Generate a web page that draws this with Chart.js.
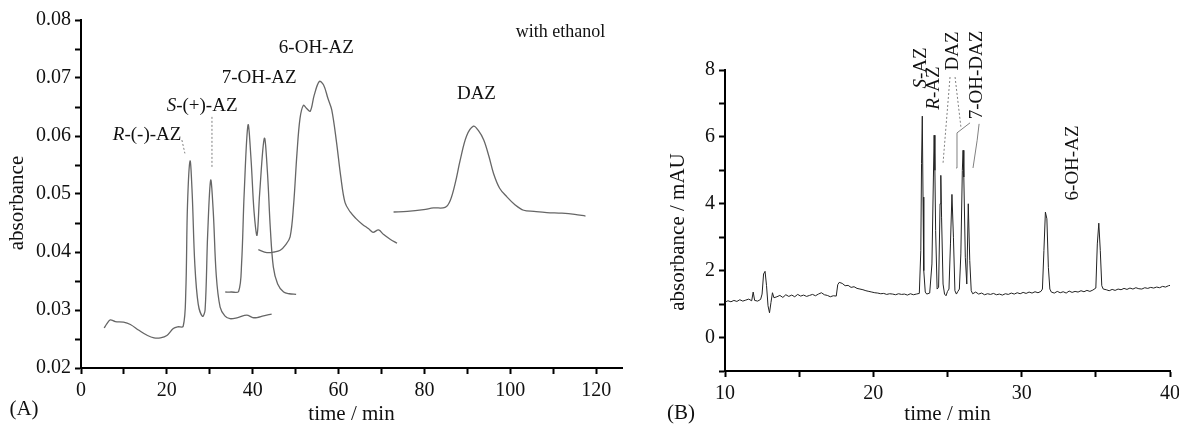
<!DOCTYPE html>
<html>
<head>
<meta charset="utf-8">
<script src="https://cdn.jsdelivr.net/npm/chart.js@4.4.0/dist/chart.umd.min.js"></script>
<style>
  body { margin: 0; background: #fff; overflow: hidden; }
  #wrap { position: relative; width: 1179px; height: 427px; overflow: hidden; }
  canvas { position: absolute; top: 0; }
</style>
</head>
<body>
<div id="wrap">
  <canvas id="chartA" width="630" height="427" style="left:0px"></canvas>
  <canvas id="chartB" width="570" height="427" style="left:630px"></canvas>
</div>
<script>
// ---- panel A : chromatogram pieces, with ethanol (time in min, absorbance) ----
const aTime1 = [5.4, 6.0, 6.8, 8.0, 9.9, 11.5, 13.5, 15.5, 17.0, 18.5, 20.0, 21.5, 22.5, 23.8, 24.4, 24.8, 25.4, 25.9, 26.5, 27.3,
                28.3, 28.9, 29.5, 30.2, 30.8, 31.5, 32.4, 33.5, 34.7, 36.5, 38.6, 40.0, 41.0, 42.5, 44.4];
const aAbs1  = [0.0269, 0.0276, 0.0283, 0.0280, 0.0279, 0.0275, 0.0265, 0.0256, 0.0252, 0.0252, 0.0256, 0.0268, 0.0271, 0.0272, 0.0330, 0.0480, 0.0557, 0.0500, 0.0380, 0.0310,
                0.0289, 0.0300, 0.0430, 0.0524, 0.0470, 0.0360, 0.0305, 0.0290, 0.0285, 0.0287, 0.0291, 0.0287, 0.0287, 0.0290, 0.0293];

const aTime2 = [33.6, 35.0, 36.7, 37.4, 38.0, 38.9, 39.6, 40.3, 41.0, 41.6, 42.7, 43.4, 44.1, 44.8, 45.8, 47.2, 48.5, 50.1];
const aAbs2  = [0.0331, 0.0331, 0.0332, 0.0380, 0.0500, 0.0619, 0.0560, 0.0470, 0.0429, 0.0500, 0.0596, 0.0540, 0.0440, 0.0374, 0.0345, 0.0331, 0.0328, 0.0327];

const aTime3 = [41.3, 43.3, 45.0, 46.4, 47.6, 48.7, 49.5, 50.3, 51.0, 51.8, 52.5, 53.4, 54.3, 55.5, 56.5, 57.5, 58.4, 59.5, 60.5, 61.5,
                62.7, 64.0, 65.5, 67.0, 68.0, 69.3, 70.5, 72.0, 73.6];
const aAbs3  = [0.0404, 0.0399, 0.0400, 0.0403, 0.0412, 0.0426, 0.0480, 0.0570, 0.0630, 0.0653, 0.0648, 0.0643, 0.0670, 0.0694, 0.0688, 0.0665, 0.0645, 0.0590, 0.0530, 0.0485,
                0.0469, 0.0458, 0.0448, 0.0440, 0.0434, 0.0438, 0.0430, 0.0422, 0.0415];

const aTime4 = [72.8, 76.0, 79.8, 82.1, 84.8, 86.0, 87.2, 88.3, 89.8, 91.4, 92.5, 93.8, 95.0, 96.1, 97.5, 99.2, 101.0, 103.1, 105.5, 108.5,
                112.0, 115.0, 117.5];
const aAbs4  = [0.0469, 0.0470, 0.0473, 0.0476, 0.0477, 0.0489, 0.0520, 0.0558, 0.0600, 0.0617, 0.0610, 0.0593, 0.0565, 0.0535, 0.0510, 0.0495, 0.0482, 0.0472, 0.0470, 0.0468,
                0.0467, 0.0465, 0.0462];

// leader lines (dotted) from peak names to peaks
const aLeadR = [[23.5, 0.0593], [24.2, 0.0570]];
const aLeadS = [[30.5, 0.0633], [30.5, 0.0546]];

// ---- panel B : electropherogram (time in min, absorbance in mAU) ----
const bTime = [
  10.0, 10.2, 10.4, 10.6, 10.8, 11.0, 11.2, 11.4, 11.6, 11.8,
  11.9, 12.0, 12.2, 12.4, 12.5, 12.6, 12.7, 12.8, 12.9, 13.0,
  13.1, 13.2, 13.3, 13.5, 13.7, 13.9, 14.1, 14.3, 14.5, 14.7,
  14.9, 15.1, 15.3, 15.5, 15.7, 15.9, 16.1, 16.3, 16.5, 16.7,
  16.9, 17.1, 17.3, 17.5, 17.6, 17.7, 17.9, 18.1, 18.3, 18.5,
  18.7, 18.9, 19.1, 19.3, 19.5, 19.7, 19.9, 20.1, 20.3, 20.5,
  20.7, 20.9, 21.1, 21.3, 21.5, 21.7, 21.9, 22.1, 22.3, 22.5,
  22.7, 22.9, 23.1, 23.2, 23.25, 23.3, 23.35, 23.4, 23.5, 23.6,
  23.8, 23.95, 24.05, 24.1, 24.15, 24.2, 24.3, 24.4, 24.5, 24.55,
  24.6, 24.7, 24.8, 24.9, 25.0, 25.1, 25.2, 25.3, 25.4, 25.5,
  25.6, 25.7, 25.8, 25.9, 26.0, 26.05, 26.1, 26.2, 26.3, 26.4,
  26.5, 26.6, 26.7, 26.9, 27.1, 27.3, 27.5, 27.7, 27.9, 28.1,
  28.3, 28.5, 28.7, 28.9, 29.1, 29.3, 29.5, 29.7, 29.9, 30.1,
  30.3, 30.5, 30.7, 30.9, 31.1, 31.3, 31.4, 31.5, 31.6, 31.7,
  31.8, 31.9, 32.0, 32.2, 32.4, 32.6, 32.8, 33.0, 33.2, 33.4,
  33.6, 33.8, 34.0, 34.2, 34.4, 34.6, 34.8, 35.0, 35.1, 35.2,
  35.3, 35.4, 35.5, 35.7, 35.9, 36.1, 36.3, 36.5, 36.7, 36.9,
  37.1, 37.3, 37.5, 37.7, 37.9, 38.1, 38.3, 38.5, 38.7, 38.9,
  39.1, 39.3, 39.5, 39.7, 39.9, 40.0];
const bAbs = [
  1.06, 1.10, 1.07, 1.11, 1.08, 1.13, 1.09, 1.12, 1.15, 1.10,
  1.36, 1.11, 1.09, 1.14, 1.30, 1.90, 1.98, 1.55, 0.95, 0.74,
  1.05, 1.34, 1.19, 1.22, 1.26, 1.20, 1.28, 1.23, 1.27, 1.22,
  1.29, 1.24, 1.27, 1.23, 1.26, 1.29, 1.25, 1.30, 1.34, 1.28,
  1.26, 1.22, 1.25, 1.24, 1.58, 1.65, 1.62, 1.55, 1.56, 1.50,
  1.52, 1.47, 1.45, 1.43, 1.40, 1.38, 1.36, 1.34, 1.33, 1.31,
  1.32, 1.29, 1.31, 1.30, 1.28, 1.31, 1.29, 1.30, 1.27, 1.31,
  1.28, 1.30, 1.32, 2.60, 5.20, 6.62, 4.20, 2.00, 1.36, 1.30,
  1.33, 2.20, 4.80, 6.05, 5.00, 3.20, 1.45, 1.50, 4.00, 4.85,
  3.60, 1.60, 1.30, 1.25, 1.38, 1.45, 2.80, 4.28, 3.00, 1.40,
  1.30, 1.38, 1.45, 2.50, 5.00, 5.60, 4.80, 2.40, 1.60, 4.00,
  2.30, 1.40, 1.31, 1.36, 1.30, 1.33, 1.28, 1.31, 1.29, 1.32,
  1.28, 1.30, 1.27, 1.31, 1.29, 1.33, 1.30, 1.34, 1.31, 1.35,
  1.32, 1.36, 1.33, 1.37, 1.34, 1.38, 1.45, 2.60, 3.75, 3.55,
  2.10, 1.45, 1.36, 1.33, 1.38, 1.34, 1.37, 1.33, 1.39, 1.35,
  1.38, 1.36, 1.40, 1.37, 1.41, 1.38, 1.42, 1.48, 2.80, 3.42,
  2.60, 1.55, 1.45, 1.43, 1.40, 1.44, 1.41, 1.45, 1.43, 1.47,
  1.44, 1.48, 1.45, 1.49, 1.46, 1.45, 1.49, 1.47, 1.50, 1.48,
  1.51, 1.49, 1.53, 1.51, 1.55, 1.56];

const bLeadDaz1 = [[25.17, 7.79], [24.70, 5.22]];
const bLeadDaz2 = [[25.51, 7.79], [25.91, 6.27]];
const bLeadOh1  = [[25.58, 5.07], [25.64, 6.12], [26.52, 6.42]];
const bLeadOh2  = [[27.13, 6.39], [27.00, 5.90], [26.72, 5.07]];

const SERIF = '"Liberation Serif", "Times New Roman", serif';

function pts(ts, vs) { return ts.map((t, i) => ({ x: t, y: vs[i] })); }
function pairs(p) { return p.map(q => ({ x: q[0], y: q[1] })); }

function trace(data, color, width, tension) {
  return { data: data, borderColor: color, borderWidth: width, pointRadius: 0, tension: tension, fill: false };
}
function leader(data, dashed) {
  return { data: pairs(data), borderColor: '#808080', borderWidth: 1, pointRadius: 0, tension: 0, fill: false,
           borderDash: dashed ? [2, 2] : [] };
}

// draws peak names (data units) and fixed texts (canvas pixels)
const textPlugin = {
  id: 'texts',
  afterDraw(chart, args, opts) {
    const ctx = chart.ctx;
    const xs = chart.scales.x, ys = chart.scales.y;
    const drawItem = (px, py, lab) => {
      const size = lab.size || 19;
      const fontOf = p => (p.i ? 'italic ' : '') + size + 'px ' + SERIF;
      let total = 0;
      const parts = lab.parts.map(p => {
        ctx.font = fontOf(p);
        const w = ctx.measureText(p.s).width;
        total += w;
        return { s: p.s, i: p.i, w: w };
      });
      ctx.save();
      ctx.translate(px, py);
      if (lab.rot) ctx.rotate(-Math.PI / 2);
      ctx.fillStyle = '#111';
      ctx.textBaseline = 'middle';
      ctx.textAlign = 'left';
      let x = -total / 2;
      parts.forEach(p => { ctx.font = fontOf(p); ctx.fillText(p.s, x, 0); x += p.w; });
      ctx.restore();
    };
    (opts.peaks || []).forEach(l => drawItem(xs.getPixelForValue(l.t), ys.getPixelForValue(l.v), l));
    (opts.fixed || []).forEach(l => drawItem(l.x, l.y, l));
  }
};

// ticks every `step` from min to max (Chart.js would drop the last one near max)
function stepTicks(s, min, max, step) {
  const out = [];
  for (let k = Math.ceil(min / step - 1e-9); k * step <= max + 1e-9; k++) out.push({ value: +(k * step).toFixed(6) });
  s.ticks = out;
}
const isMult = (v, m) => Math.abs(v / m - Math.round(v / m)) < 1e-6;

function axisX(min, max, step, labelEvery, height) {
  return {
    type: 'linear', min: min, max: max,
    afterFit(s) { s.height = height; },
    afterBuildTicks(s) { stepTicks(s, min, max, step); },
    ticks: { autoSkip: false, maxRotation: 0, padding: 5, color: '#111',
             font: { family: SERIF, size: 20 },
             callback: v => (isMult(v, labelEvery) ? v : '') },
    grid: { drawOnChartArea: false, tickLength: 6, tickColor: '#000', tickWidth: 2 },
    border: { color: '#000', width: 2 },
    title: { display: true, text: 'time / min', color: '#111', font: { family: SERIF, size: 21 }, padding: { top: 0, bottom: 0 } }
  };
}
function axisY(min, max, step, labelEvery, width, fmt) {
  return {
    type: 'linear', min: min, max: max,
    afterFit(s) { s.width = width; },
    afterBuildTicks(s) { stepTicks(s, min, max, step); },
    ticks: { autoSkip: false, padding: 4, color: '#111',
             font: { family: SERIF, size: 20 },
             callback: v => (isMult(v, labelEvery) && v >= labelEvery * Math.ceil(min / labelEvery - 1e-9) ? fmt(v) : '') },
    grid: { drawOnChartArea: false, tickLength: 6, tickColor: '#000', tickWidth: 2 },
    border: { color: '#000', width: 2 }
  };
}

new Chart(document.getElementById('chartA'), {
  type: 'line',
  data: {
    datasets: [
      trace(pts(aTime1, aAbs1), '#666', 1.3, 0.35),
      trace(pts(aTime2, aAbs2), '#666', 1.3, 0.35),
      trace(pts(aTime3, aAbs3), '#666', 1.3, 0.35),
      trace(pts(aTime4, aAbs4), '#666', 1.3, 0.35),
      leader(aLeadR, true),
      leader(aLeadS, true)
    ]
  },
  options: {
    responsive: false, animation: false, devicePixelRatio: 1,
    layout: { padding: { left: 0, right: 8, top: 20, bottom: 0 } },
    plugins: {
      legend: { display: false }, tooltip: { enabled: false },
      texts: {
        peaks: [
          { t: 15.4, v: 0.0602, parts: [{ s: 'R', i: true }, { s: '-(-)-AZ' }] },
          { t: 28.2, v: 0.0652, parts: [{ s: 'S', i: true }, { s: '-(+)-AZ' }] },
          { t: 41.5, v: 0.0700, parts: [{ s: '7-OH-AZ' }] },
          { t: 54.8, v: 0.0752, parts: [{ s: '6-OH-AZ' }] },
          { t: 92.1, v: 0.0672, parts: [{ s: 'DAZ' }] },
          { t: 111.7, v: 0.0779, size: 18, parts: [{ s: 'with ethanol' }] }
        ],
        fixed: [
          { x: 17, y: 203, rot: true, size: 21, parts: [{ s: 'absorbance' }] },
          { x: 24, y: 409, size: 21, parts: [{ s: '(A)' }] }
        ]
      }
    },
    scales: {
      x: axisX(0, 126, 10, 20, 59),
      y: axisY(0.02, 0.08, 0.005, 0.01, 81, v => v.toFixed(2))
    }
  },
  plugins: [textPlugin]
});

new Chart(document.getElementById('chartB'), {
  type: 'line',
  data: {
    datasets: [
      trace(pts(bTime, bAbs), '#222', 1, 0),
      leader(bLeadDaz1, true),
      leader(bLeadDaz2, true),
      leader(bLeadOh1, false),
      leader(bLeadOh2, false)
    ]
  },
  options: {
    responsive: false, animation: false, devicePixelRatio: 1,
    layout: { padding: { left: 0, right: 30, top: 70, bottom: 0 } },
    plugins: {
      legend: { display: false }, tooltip: { enabled: false },
      texts: {
        peaks: [
          { t: 23.22, v: 8.06, rot: true, parts: [{ s: 'S', i: true }, { s: '-AZ' }] },
          { t: 24.09, v: 7.46, rot: true, parts: [{ s: 'R', i: true }, { s: '-AZ' }] },
          { t: 25.37, v: 8.57, rot: true, parts: [{ s: 'DAZ' }] },
          { t: 26.99, v: 7.85, rot: true, parts: [{ s: '7-OH-DAZ' }] },
          { t: 33.47, v: 5.22, rot: true, parts: [{ s: '6-OH-AZ' }] }
        ],
        fixed: [
          { x: 48, y: 232, rot: true, size: 21, parts: [{ s: 'absorbance / mAU' }] },
          { x: 51, y: 413, size: 21, parts: [{ s: '(B)' }] }
        ]
      }
    },
    scales: {
      x: axisX(10, 40, 5, 10, 56),
      y: axisY(-1, 8, 1, 2, 95, v => String(v))
    }
  },
  plugins: [textPlugin]
});
</script>
</body>
</html>
